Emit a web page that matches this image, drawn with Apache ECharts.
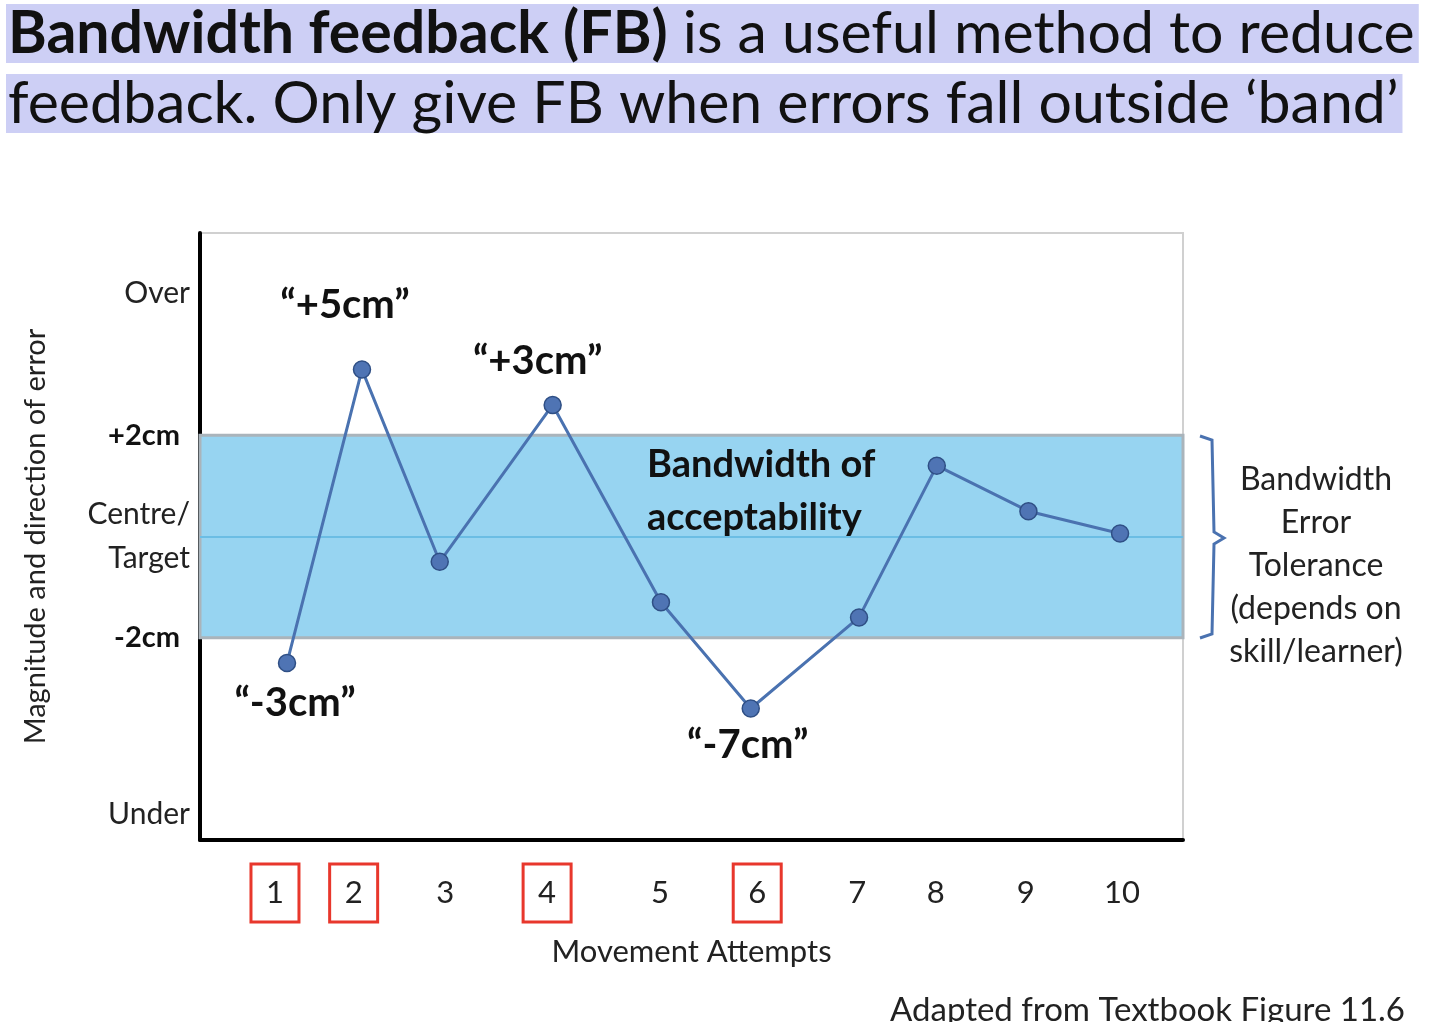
<!DOCTYPE html>
<html><head><meta charset="utf-8">
<script src="https://cdn.jsdelivr.net/npm/echarts@6/dist/echarts.min.js"></script>
<style>html,body{margin:0;background:#fff}#c{width:1440px;height:1022px}</style>
</head><body><div id="c"></div>
<script>
// attempt positions along x (attempt units, irregular as in the figure)
const attemptPos = [0.94, 1.75, 2.59, 3.81, 4.98, 5.95, 7.12, 7.96, 8.95, 9.94];
// error in cm (0 = target)
const errorCm = [-2.5, 3.3, -0.5, 2.6, -1.3, -3.4, -1.6, 1.4, 0.5, 0.06];
const attemptLabels = ['1', '2', '3', '4', '5', '6', '7', '8', '9', '10'];
const labelPos = [0.81, 1.66, 2.65, 3.75, 4.97, 6.02, 7.10, 7.95, 8.92, 9.96];
const boxed = ['1', '2', '4', '6'];
const yTickVals = [-5.5, -2, 0, 2, 4.8];
const yTickText = ['Under', '{b|-2cm}', 'Centre/\nTarget', '{b|+2cm}', 'Over'];
const calloutText = {0: '“-3cm”', 1: '“+5cm”', 3: '“+3cm”', 5: '“-7cm”'};
const calloutOffset = {0: [8, 6], 1: [-17, -30], 3: [-15, -10], 5: [-3, 2]};
const calloutPosition = {0: 'bottom', 1: 'top', 3: 'top', 5: 'bottom'};

const F = 'Lato, "Open Sans", sans-serif';
const chart = echarts.init(document.getElementById('c'));
const data = attemptPos.map((x, i) => {
  const d = {value: [x, errorCm[i]]};
  if (calloutText[i]) d.label = {show: true, formatter: calloutText[i], position: calloutPosition[i],
    offset: calloutOffset[i], fontSize: 40, fontWeight: 'bold', color: '#111', fontFamily: F};
  return d;
});
chart.setOption({
  animation: false,
  grid: {left: 200, top: 233, width: 983, height: 607, show: true, borderColor: '#d0d0d0', borderWidth: 2},
  xAxis: {type: 'value', min: 0, max: 10.62,
    axisLine: {onZero: false, lineStyle: {color: '#000', width: 4}}, axisTick: {show: false}, splitLine: {show: false},
    axisLabel: {customValues: labelPos, margin: 24, fontSize: 31, fontFamily: F, color: '#222',
      formatter: v => { const t = attemptLabels[labelPos.indexOf(v)]; return boxed.includes(t) ? '{box|' + t + '}' : '{p|' + t + '}'; },
      rich: {box: {borderColor: '#e8372c', borderWidth: 3, width: 48, height: 58, align: 'center', fontSize: 31, fontFamily: F, color: '#222'},
        p: {height: 58, fontSize: 31, fontFamily: F, color: '#222', borderColor: 'transparent', borderWidth: 3}}},
    name: 'Movement Attempts', nameLocation: 'middle', nameGap: 96,
    nameTextStyle: {fontSize: 31, fontFamily: F, color: '#222'}},
  yAxis: {type: 'value', min: -6, max: 6,
    axisLine: {show: true, lineStyle: {color: '#000', width: 4}}, axisTick: {show: false}, splitLine: {show: false},
    axisLabel: {customValues: yTickVals, margin: 10, fontSize: 30, fontFamily: F, color: '#222', lineHeight: 44,
      formatter: v => yTickText[yTickVals.indexOf(v)],
      rich: {b: {fontWeight: 'bold', fontSize: 29, fontFamily: F, color: '#111', padding: [0, 10, 0, 0]}}},
    name: 'Magnitude and direction of error', nameLocation: 'middle', nameGap: 150,
    nameTextStyle: {fontSize: 29, fontFamily: F, color: '#222'}},
  series: [{
    type: 'line', data: data, symbol: 'circle', symbolSize: 17,
    lineStyle: {color: '#4a72b0', width: 3}, itemStyle: {color: '#4f74b4', borderColor: '#2f4f85', borderWidth: 1.5},
    markArea: {silent: true, itemStyle: {color: '#97d4f1', borderColor: '#aab4bb', borderWidth: 3}, data: [[{yAxis: -2}, {yAxis: 2}]]},
    markLine: {silent: true, symbol: 'none', label: {show: false}, lineStyle: {color: '#6bbde4', width: 2, type: 'solid'}, data: [{yAxis: 0}]},
    z: 5
  }],
  graphic: [
    {type: 'text', left: 6, top: 4, z: 10, style: {
      text: '{b|Bandwidth feedback (FB)} is a useful method to reduce', rich: {b: {fontWeight: 'bold', fontSize: 59, fontFamily: F, fill: '#111'}},
      fontSize: 59, fontFamily: F, fill: '#111', backgroundColor: '#cdcff5', padding: [0, 4, 0, 2]}},
    {type: 'text', left: 6, top: 74, z: 10, style: {
      text: 'feedback. Only give FB when errors fall outside ‘band’', fontSize: 59, fontFamily: F, fill: '#111',
      backgroundColor: '#cdcff5', padding: [0, 4, 0, 2]}},
    {type: 'text', left: 647, top: 438, z: 10, style: {text: 'Bandwidth of\nacceptability', fontSize: 38, fontWeight: 'bold',
      fontFamily: F, fill: '#111', lineHeight: 53}},
    {type: 'polyline', z: 10, shape: {points: [[1200, 436], [1212, 440], [1214, 532], [1224, 538], [1214, 544], [1212, 634], [1200, 638]]},
      style: {stroke: '#4a72b0', lineWidth: 3, fill: null}},
    {type: 'text', x: 1316, y: 458, z: 10, style: {text: 'Bandwidth\nError\nTolerance\n(depends on\nskill/learner)',
      fontSize: 32, fontFamily: F, fill: '#222', lineHeight: 43, align: 'center'}},
    {type: 'text', right: 35, top: 994, z: 10, style: {text: 'Adapted from Textbook Figure 11.6', fontSize: 33, fontFamily: F, fill: '#222'}}
  ]
});
</script></body></html>
